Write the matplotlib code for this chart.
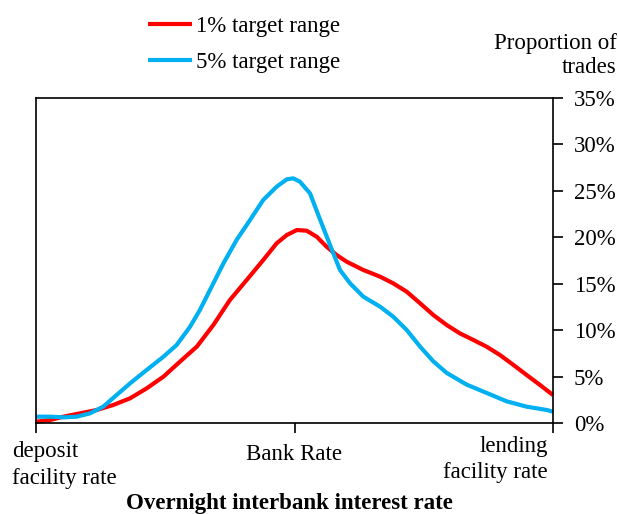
import matplotlib
matplotlib.use("Agg")
import matplotlib.pyplot as plt

plt.rcParams['font.family'] = ['Liberation Serif', 'DejaVu Serif']

# Positions: 0 = deposit facility rate, 1 = Bank Rate, 2 = lending facility rate
red_x = [0.0, 0.054, 0.106, 0.170, 0.235, 0.299, 0.364, 0.428, 0.493, 0.557, 0.622,
         0.686, 0.750, 0.815, 0.879, 0.931, 0.970, 1.009, 1.047, 1.086, 1.124, 1.163,
         1.202, 1.266, 1.331, 1.382, 1.434, 1.486, 1.537, 1.589, 1.640, 1.692, 1.743,
         1.795, 1.847, 1.898, 1.950, 2.0]
red_y = [0.14, 0.32, 0.68, 1.04, 1.40, 1.94, 2.66, 3.73, 4.99, 6.61, 8.22,
         10.55, 13.24, 15.40, 17.55, 19.35, 20.24, 20.78, 20.71, 20.06, 18.99, 18.09,
         17.37, 16.48, 15.76, 15.04, 14.14, 12.89, 11.63, 10.55, 9.65, 8.94, 8.22,
         7.32, 6.25, 5.17, 4.09, 3.01]

blue_x = [0.0, 0.054, 0.106, 0.157, 0.209, 0.260, 0.312, 0.364, 0.428, 0.493, 0.544,
          0.596, 0.634, 0.673, 0.725, 0.776, 0.828, 0.879, 0.931, 0.970, 0.995, 1.021,
          1.060, 1.099, 1.137, 1.176, 1.215, 1.266, 1.331, 1.382, 1.434, 1.486, 1.537,
          1.589, 1.666, 1.744, 1.821, 1.898, 1.976, 2.0]
blue_y = [0.68, 0.68, 0.61, 0.68, 1.04, 1.76, 3.02, 4.27, 5.71, 7.14, 8.40,
          10.37, 12.17, 14.32, 17.19, 19.71, 21.86, 24.02, 25.45, 26.24, 26.35, 25.99,
          24.73, 21.9, 19.2, 16.48, 15.04, 13.61, 12.53, 11.45, 10.02, 8.22, 6.64,
          5.39, 4.13, 3.23, 2.33, 1.76, 1.40, 1.22]

series_names = ['1% target range', '5% target range']
x_tick_labels = ['deposit\nfacility rate', 'Bank Rate', 'lending\nfacility rate']
y_ticks = [0, 5, 10, 15, 20, 25, 30, 35]
y_label = 'Proportion of\ntrades'
x_title = 'Overnight interbank interest rate'

W, H = 618, 514
fig = plt.figure(figsize=(W / 100, H / 100), dpi=100)
ax = fig.add_axes([36 / W, 1 - 423 / H, (553 - 36) / W, (423 - 98) / H])

ax.plot(red_x, red_y, color='#FF0000', lw=3.0, solid_joinstyle='round',
        solid_capstyle='butt', label=series_names[0], clip_on=False)
ax.plot(blue_x, blue_y, color='#00B0F0', lw=3.0, solid_joinstyle='round',
        solid_capstyle='butt', label=series_names[1], clip_on=False)

ax.set_xlim(0, 2)
ax.set_ylim(0, 35)
ax.yaxis.tick_right()
ax.set_yticks(y_ticks)
ax.set_yticklabels([f'{v}%' for v in y_ticks], fontsize=16.5)
for lab in ax.get_yticklabels():
    lab.set_horizontalalignment('left')
ax.tick_params(axis='y', direction='out', length=7, width=1.2, pad=8, right=True, left=False)
ax.set_xticks([0, 1, 2])
ax.set_xticklabels(['', '', ''])
ax.tick_params(axis='x', direction='out', length=7, width=1.2)
for s in ax.spines.values():
    s.set_linewidth(1.2)
    s.set_color('black')

fs = 16.5
fig.text(12.5 / W, 1 - 441 / H, x_tick_labels[0], ha='left', va='top', fontsize=fs, linespacing=1.4)
fig.text(294 / W, 1 - 444 / H, x_tick_labels[1], ha='center', va='top', fontsize=fs)
fig.text(548 / W, 1 - 436 / H, x_tick_labels[2], ha='right', va='top', fontsize=fs,
         linespacing=1.3, multialignment='right')
fig.text(289 / W, 1 - 509 / H, x_title, ha='center', va='baseline', fontsize=fs, fontweight='bold')
fig.text(617 / W, 1 - 33 / H, y_label, ha='right', va='top', fontsize=fs, linespacing=1.2,
         multialignment='right')

fig.legend(loc='upper left', bbox_to_anchor=(148 / W, 1 - 16 / H), frameon=False, fontsize=fs,
           handlelength=1.9, handletextpad=0.2, labelspacing=0.65, borderpad=0, borderaxespad=0)

fig.savefig('out.png', dpi=100)
